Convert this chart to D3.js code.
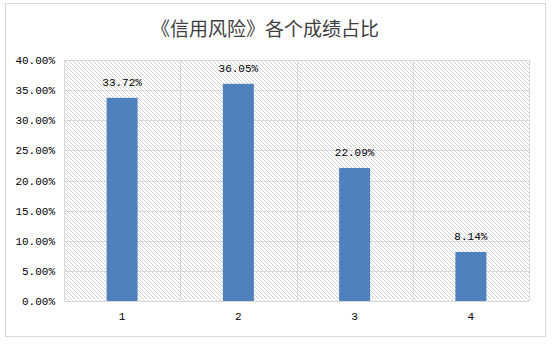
<!DOCTYPE html>
<html>
<head>
<meta charset="utf-8">
<script src="https://cdn.jsdelivr.net/npm/d3@7/dist/d3.min.js"></script>
<style>
  html, body { margin: 0; padding: 0; background: #fff; }
  svg { display: block; }
</style>
</head>
<body>
<script>
// Share of each grade in the "信用风险" course
const categories = ["1", "2", "3", "4"];
const shares = [33.72, 36.05, 22.09, 8.14];
const yTicks = [0, 5, 10, 15, 20, 25, 30, 35, 40];
const title = "《信用风险》各个成绩占比";

const W = 552, H = 344;
const plot = { left: 64, top: 60, right: 529, bottom: 301 };

const svg = d3.select("body").append("svg")
  .attr("width", W).attr("height", H);

// diagonal hatch used as the plot-area fill
const defs = svg.append("defs");
const pat = defs.append("pattern")
  .attr("id", "hatch")
  .attr("patternUnits", "userSpaceOnUse")
  .attr("width", 4).attr("height", 4);
pat.append("path")
  .attr("d", "M-1,-1 L5,5 M-1,3 L1,5 M3,-1 L5,1")
  .attr("stroke", "#d4d4d4")
  .attr("stroke-width", 1)
  .attr("shape-rendering", "crispEdges");

// outer chart border
svg.append("rect")
  .attr("x", 5.5).attr("y", 3.5)
  .attr("width", 540).attr("height", 333)
  .attr("fill", "#fff")
  .attr("stroke", "#d9d9d9")
  .attr("stroke-width", 1);

svg.append("text")
  .attr("x", 265).attr("y", 36)
  .attr("text-anchor", "middle")
  .attr("font-family", "'Noto Sans CJK SC', sans-serif")
  .attr("font-size", 19)
  .attr("fill", "#404040")
  .text(title);

const x = d3.scaleBand()
  .domain(categories)
  .range([plot.left, plot.right])
  .paddingInner(0).paddingOuter(0);

const y = d3.scaleLinear()
  .domain([0, 40])
  .range([plot.bottom, plot.top]);

// hatched plot area
svg.append("rect")
  .attr("x", plot.left).attr("y", plot.top)
  .attr("width", plot.right - plot.left)
  .attr("height", plot.bottom - plot.top)
  .attr("fill", "url(#hatch)");

// horizontal gridlines
svg.append("g")
  .selectAll("line")
  .data(yTicks)
  .join("line")
  .attr("x1", plot.left).attr("x2", plot.right)
  .attr("y1", d => Math.round(y(d)) + 0.5)
  .attr("y2", d => Math.round(y(d)) + 0.5)
  .attr("stroke", "#d9d9d9")
  .attr("stroke-width", 1);

// vertical gridlines at category boundaries
const bounds = categories.map(c => x(c)).concat([plot.right]);
svg.append("g")
  .selectAll("line")
  .data(bounds)
  .join("line")
  .attr("x1", d => Math.round(d) + 0.5).attr("x2", d => Math.round(d) + 0.5)
  .attr("y1", plot.top).attr("y2", plot.bottom)
  .attr("stroke", "#d9d9d9")
  .attr("stroke-width", 1);

// y axis labels
const fmt = d => d.toFixed(2) + "%";
const yAxis = d3.axisLeft(y).tickValues(yTicks).tickFormat(fmt).tickSize(0).tickPadding(9);
const gy = svg.append("g")
  .attr("transform", `translate(${plot.left},0)`)
  .call(yAxis);
gy.select(".domain").remove();
gy.selectAll("text")
  .attr("font-family", "'Liberation Mono', monospace")
  .attr("font-size", 11)
  .attr("fill", "#000");

// x axis labels
const xAxis = d3.axisBottom(x).tickSize(0).tickPadding(11);
const gx = svg.append("g")
  .attr("transform", `translate(0,${plot.bottom})`)
  .call(xAxis);
gx.select(".domain").remove();
gx.selectAll("text")
  .attr("font-family", "'Liberation Mono', monospace")
  .attr("font-size", 11)
  .attr("fill", "#000");

// bars
const barW = 31;
const data = categories.map((c, i) => ({ c, v: shares[i] }));
svg.append("g")
  .selectAll("rect")
  .data(data)
  .join("rect")
  .attr("x", d => x(d.c) + x.bandwidth() / 2 - barW / 2)
  .attr("y", d => y(d.v))
  .attr("width", barW)
  .attr("height", d => y(0) - y(d.v))
  .attr("fill", "#4f81bd");

// value labels
svg.append("g")
  .selectAll("text")
  .data(data)
  .join("text")
  .attr("x", d => x(d.c) + x.bandwidth() / 2)
  .attr("y", d => y(d.v) - 12)
  .attr("text-anchor", "middle")
  .attr("font-family", "'Liberation Mono', monospace")
  .attr("font-size", 11)
  .attr("fill", "#000")
  .text(d => fmt(d.v));
</script>
</body>
</html>
